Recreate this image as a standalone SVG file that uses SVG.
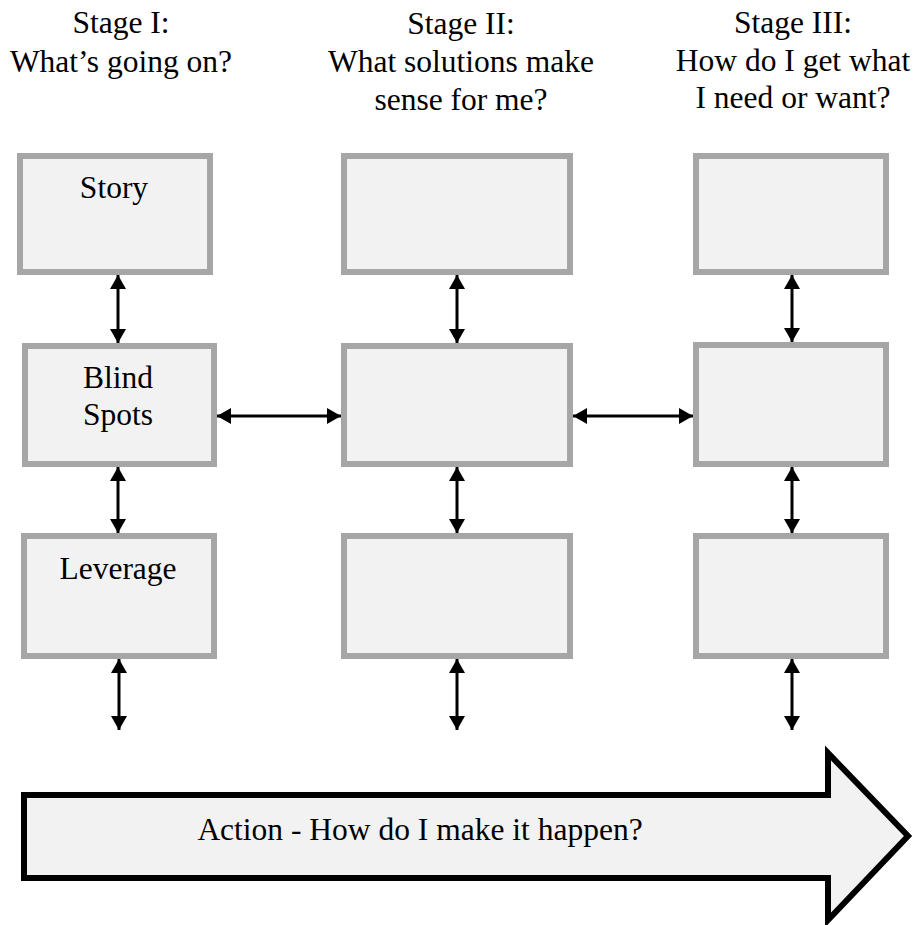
<svg xmlns="http://www.w3.org/2000/svg" width="914" height="925" viewBox="0 0 914 925">
<style>
text{font-family:"Liberation Serif","Times New Roman",serif;font-size:31.5px;fill:#000;text-anchor:middle}
.box{fill:#f2f2f2;stroke:#a6a6a6;stroke-width:6}
.conn{stroke:#000;stroke-width:3;fill:none;marker-start:url(#ah);marker-end:url(#ah)}
</style>
<defs>
<marker id="ah" viewBox="0 0 14 16" refX="14" refY="8" markerWidth="14" markerHeight="16" markerUnits="userSpaceOnUse" orient="auto-start-reverse">
<path d="M0,0 L14,8 L0,16 Z" fill="#000"/>
</marker>
</defs>
<rect width="914" height="925" fill="#fff"/>
<g id="headers">
<text x="121" y="33">Stage I:</text>
<text x="121" y="72">What’s going on?</text>
<text x="461" y="34">Stage II:</text>
<text x="461" y="72">What solutions make</text>
<text x="461" y="110">sense for me?</text>
<text x="793" y="33">Stage III:</text>
<text x="793" y="71">How do I get what</text>
<text x="793" y="108">I need or want?</text>
</g>
<g id="story"><rect class="box" x="20" y="156" width="190" height="116"/><text x="114" y="198">Story</text></g>
<g id="blind"><rect class="box" x="25" y="346" width="189" height="118"/><text x="118" y="388">Blind</text><text x="118" y="425">Spots</text></g>
<g id="leverage"><rect class="box" x="24" y="536" width="190" height="120"/><text x="118" y="579">Leverage</text></g>
<g id="s2top"><rect class="box" x="344" y="156" width="226" height="116"/></g>
<g id="s2mid"><rect class="box" x="344" y="346" width="226" height="118"/></g>
<g id="s2bot"><rect class="box" x="344" y="536" width="226" height="120"/></g>
<g id="s3top"><rect class="box" x="696" y="156" width="190" height="116"/></g>
<g id="s3mid"><rect class="box" x="696" y="345" width="190" height="119"/></g>
<g id="s3bot"><rect class="box" x="696" y="536" width="190" height="120"/></g>
<g id="connectors">
<line class="conn" x1="118" y1="275" x2="118" y2="343"/>
<line class="conn" x1="118" y1="467" x2="118" y2="533"/>
<line class="conn" x1="119" y1="659" x2="119" y2="730"/>
<line class="conn" x1="457" y1="275" x2="457" y2="343"/>
<line class="conn" x1="457" y1="467" x2="457" y2="533"/>
<line class="conn" x1="457" y1="659" x2="457" y2="730"/>
<line class="conn" x1="792" y1="275" x2="792" y2="342"/>
<line class="conn" x1="792" y1="467" x2="792" y2="533"/>
<line class="conn" x1="792" y1="659" x2="792" y2="730"/>
<line class="conn" x1="217" y1="416" x2="341" y2="416"/>
<line class="conn" x1="573" y1="416" x2="693" y2="416"/>
</g>
<g id="action">
<path d="M24,795 L828,795 L828,753 L908,836 L828,920 L828,878 L24,878 Z" fill="#f2f2f2" stroke="#000" stroke-width="6" stroke-linejoin="miter" stroke-miterlimit="10"/>
<text x="420" y="840">Action - How do I make it happen?</text>
</g>
</svg>
